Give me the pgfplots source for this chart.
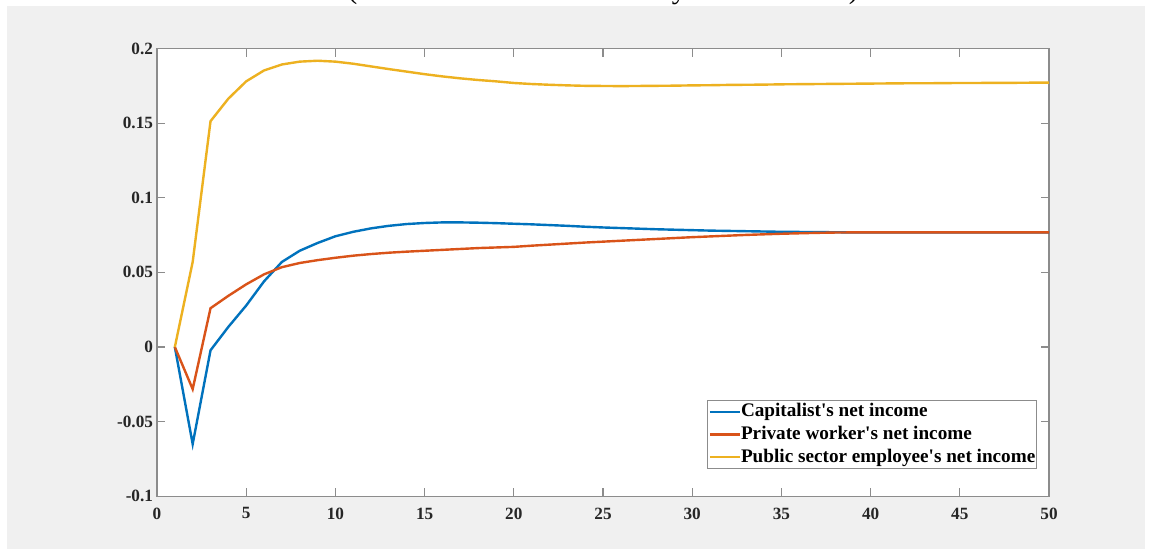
\documentclass[border=0pt]{standalone}
\usepackage{fontspec}
\setmainfont{Liberation Serif}
\newfontfamily\legfont{Liberation Serif}
\usepackage{pgfplots}
\pgfplotsset{compat=1.18}
\definecolor{mblue}{rgb}{0,0.447,0.741}
\definecolor{mred}{rgb}{0.85,0.325,0.098}
\definecolor{myellow}{rgb}{0.929,0.694,0.125}
\definecolor{bgray}{HTML}{F0F0F0}
\definecolor{agray}{HTML}{8C8C8C}
\begin{document}
\begin{tikzpicture}
\useasboundingbox (0,0) rectangle (578pt,-274.5pt);
\fill[white] (0,0) rectangle (578pt,-274.5pt);
\fill[bgray] (3.5pt,-3pt) rectangle (572.5pt,-274.5pt);
\begin{scope}
\clip (0,0) rectangle (578pt,-3pt);
\node[anchor=base, inner sep=0pt, font=\fontsize{14.6}{16}\selectfont] at (301.5pt,0.5pt) {(\% deviation from the steady state solution)};
\end{scope}
\begin{axis}[
  at={(78.5pt,-248.15pt)}, anchor=south west,
  scale only axis, width=446pt, height=223.9pt,
  xmin=0, xmax=50, ymin=-0.1, ymax=0.2,
  axis background/.style={fill=white},
  axis line style={agray, line width=0.7pt},
  xtick={0,5,...,50},
  xticklabels={0,5,10,15,20,25,30,35,40,45,50},
  ytick={-0.1,-0.05,0,0.05,0.1,0.15,0.2},
  yticklabels={-0.1,-0.05,0,0.05,0.1,0.15,0.2},
  scaled ticks=false,
  tick align=inside,
  major tick length=4pt,
  every tick/.style={agray, line width=0.6pt},
  xtick pos=both, ytick pos=both,
  tick label style={font=\fontsize{8.6}{10}\selectfont\bfseries, text=black!85, inner sep=0pt},
  xticklabel style={yshift=-5.5pt},
  yticklabel style={xshift=-1.8pt},
  legend cell align=left,
  legend style={at={(0.6166,0.215)}, anchor=north west, draw=agray, line width=0.6pt, fill=white,
    font=\legfont\fontsize{9.6}{11}\selectfont\bfseries, inner xsep=0.5pt, inner ysep=1pt,
    row sep=2.15pt,
    nodes={inner sep=0pt, text height=7pt, text depth=2.2pt}},
  legend image code/.code={\path (0pt,0pt) -- (15pt,0pt); \draw[#1] (2.5pt,0pt) -- (15pt,0pt);},
  every axis plot/.append style={line width=1.2pt},
]
\addplot[mblue] coordinates {
(1,0) (2,-0.065) (3,-0.0022) (4,0.0135) (5,0.0278) (6,0.044) (7,0.057) (8,0.0645) (9,0.0697) (10,0.0742)
(11,0.0772) (12,0.0795) (13,0.0812) (14,0.0824) (15,0.0831) (16,0.0835) (17,0.0835) (18,0.0833) (19,0.083) (20,0.0826)
(21,0.0822) (22,0.0817) (23,0.0812) (24,0.0806) (25,0.0801) (26,0.0797) (27,0.0793) (28,0.0789) (29,0.0786) (30,0.0783)
(31,0.078) (32,0.0778) (33,0.0776) (34,0.0774) (35,0.0772) (36,0.0771) (37,0.077) (38,0.0769) (39,0.0768) (40,0.0768)
(41,0.0768) (42,0.0768) (43,0.0768) (44,0.0768) (45,0.0768) (46,0.0768) (47,0.0768) (48,0.0768) (49,0.0768) (50,0.0768)
};
\addlegendentry{Capitalist's net income}
\addplot[mred] coordinates {
(1,0) (2,-0.0282) (3,0.026) (4,0.0343) (5,0.042) (6,0.0487) (7,0.0535) (8,0.0563) (9,0.0582) (10,0.0598)
(11,0.0612) (12,0.0623) (13,0.0632) (14,0.0639) (15,0.0645) (16,0.0651) (17,0.0657) (18,0.0663) (19,0.0667) (20,0.0671)
(21,0.0679) (22,0.0686) (23,0.0693) (24,0.07) (25,0.0706) (26,0.0712) (27,0.0718) (28,0.0724) (29,0.073) (30,0.0736)
(31,0.0741) (32,0.0746) (33,0.0751) (34,0.0755) (35,0.0759) (36,0.0762) (37,0.0765) (38,0.0767) (39,0.0768) (40,0.0768)
(41,0.0768) (42,0.0768) (43,0.0768) (44,0.0768) (45,0.0768) (46,0.0768) (47,0.0768) (48,0.0768) (49,0.0768) (50,0.0768)
};
\addlegendentry{Private worker's net income}
\addplot[myellow] coordinates {
(1,0) (2,0.057) (3,0.1513) (4,0.1664) (5,0.178) (6,0.1853) (7,0.1893) (8,0.1912) (9,0.1918) (10,0.1912)
(11,0.1898) (12,0.188) (13,0.1862) (14,0.1845) (15,0.1828) (16,0.1813) (17,0.18) (18,0.1789) (19,0.178) (20,0.1769)
(21,0.1762) (22,0.1757) (23,0.1753) (24,0.175) (25,0.1749) (26,0.1748) (27,0.1749) (28,0.175) (29,0.1751) (30,0.1753)
(31,0.1754) (32,0.1756) (33,0.1757) (34,0.1758) (35,0.176) (36,0.1761) (37,0.1762) (38,0.1763) (39,0.1764) (40,0.1765)
(41,0.1766) (42,0.1767) (43,0.1767) (44,0.1768) (45,0.1769) (46,0.1769) (47,0.177) (48,0.177) (49,0.1771) (50,0.1771)
};
\addlegendentry{Public sector employee's net income}
\end{axis}
\end{tikzpicture}
\end{document}
